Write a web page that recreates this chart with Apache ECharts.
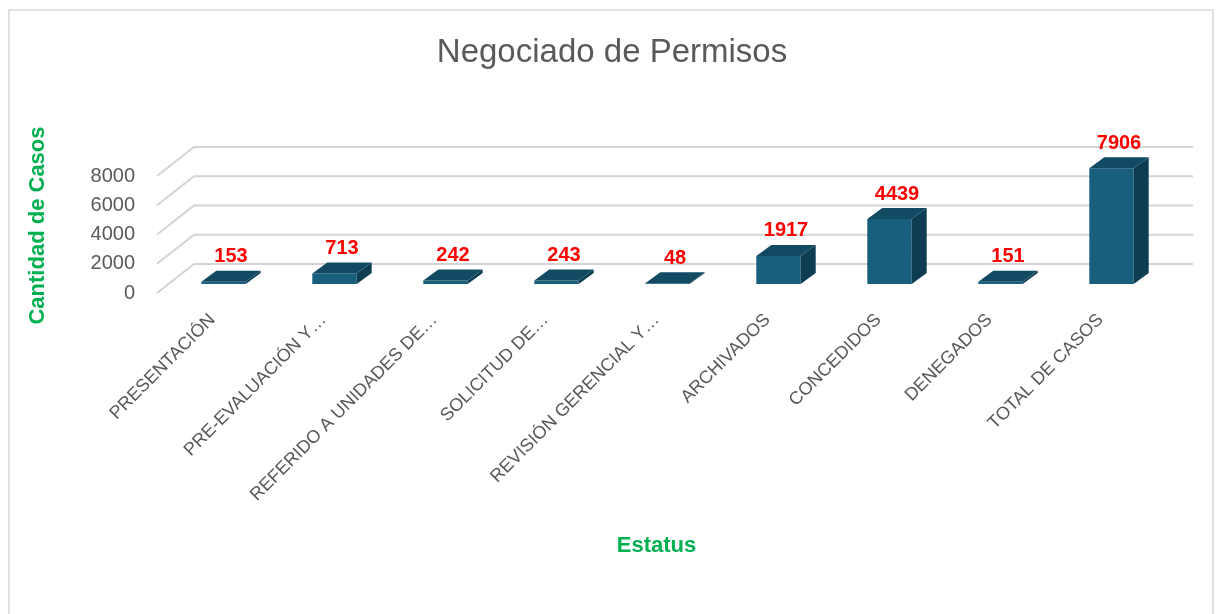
<!DOCTYPE html>
<html>
<head>
<meta charset="utf-8">
<script src="https://cdn.jsdelivr.net/npm/echarts@6/dist/echarts.min.js"></script>
<style>
  html, body { margin: 0; padding: 0; background: #fff; }
  #main { width: 1224px; height: 614px; }
</style>
</head>
<body>
<div id="main"></div>
<script>
var categories = ['PRESENTACIÓN', 'PRE-EVALUACIÓN Y…', 'REFERIDO A UNIDADES DE…', 'SOLICITUD DE…',
    'REVISIÓN GERENCIAL Y…', 'ARCHIVADOS', 'CONCEDIDOS', 'DENEGADOS', 'TOTAL DE CASOS'];
var casos = [153, 713, 242, 243, 48, 1917, 4439, 151, 7906];
var yTicks = [0, 2000, 4000, 6000, 8000];

// fake 3d: wall depth, bar position in depth, bar depth
var WALL_DX = 37, WALL_DY = -29;
var BAR_OX = 11, BAR_OY = -9;
var BAR_DX = 15, BAR_DY = -11;

var myChart = echarts.init(document.getElementById('main'));

function renderWall(params, api) {
    var cs = params.coordSys;
    var y = api.coord([0, api.value(1)])[1];
    return {
        type: 'polyline',
        shape: {
            points: [[cs.x, y], [cs.x + WALL_DX, y + WALL_DY], [cs.x + cs.width + WALL_DX, y + WALL_DY]]
        },
        style: { stroke: '#d4d4d4', lineWidth: 2, fill: null },
        silent: true
    };
}

function renderBar(params, api) {
    var base = api.coord([api.value(0), 0]);
    var top = api.coord([api.value(0), api.value(1)]);
    var w = api.size([1, 0])[0] * 0.4;
    var cx = base[0] + BAR_OX;
    var l = cx - w / 2, r = cx + w / 2;
    var by = base[1] + BAR_OY;
    var ty = top[1] + BAR_OY;
    return {
        type: 'group',
        children: [{
            type: 'rect',
            shape: { x: l, y: ty, width: w, height: Math.max(by - ty, 0.5) },
            style: { fill: '#185f7d' }
        }, {
            type: 'polygon',
            shape: { points: [[r, ty], [r + BAR_DX, ty + BAR_DY], [r + BAR_DX, by + BAR_DY], [r, by]] },
            style: { fill: '#0e3d51' }
        }, {
            type: 'polygon',
            shape: { points: [[l, ty], [r, ty], [r + BAR_DX, ty + BAR_DY], [l + BAR_DX, ty + BAR_DY]] },
            style: { fill: '#124a63' }
        }, {
            type: 'text',
            style: {
                x: cx + BAR_DX / 2, y: ty + BAR_DY - 4,
                text: String(api.value(1)),
                fill: '#ff0000', font: 'bold 20px "Liberation Sans", Arial, sans-serif',
                align: 'center', verticalAlign: 'bottom'
            }
        }]
    };
}

var option = {
    backgroundColor: '#fff',
    title: {
        text: 'Negociado de Permisos',
        left: 'center',
        top: 31,
        textStyle: { fontSize: 33, fontWeight: 'normal', color: '#595959', fontFamily: 'Liberation Sans' }
    },
    graphic: [{
        type: 'rect',
        shape: { x: 9, y: 10, width: 1204, height: 620 },
        style: { fill: null, stroke: '#d9d9d9', lineWidth: 1.5 },
        silent: true
    }],
    grid: { left: 157, right: 68, top: 176, bottom: 321 },
    xAxis: {
        type: 'category',
        data: categories,
        name: 'Estatus',
        nameLocation: 'middle',
        nameGap: 242,
        nameTextStyle: { color: '#00b050', fontSize: 22, fontWeight: 'bold', fontFamily: 'Liberation Sans' },
        axisLine: { show: false },
        axisTick: { show: false },
        axisLabel: {
            interval: 0, rotate: 45, margin: 24,
            color: '#595959', fontSize: 18, fontFamily: 'Liberation Sans'
        }
    },
    yAxis: {
        type: 'value',
        min: 0, max: 8000, interval: 2000,
        name: 'Cantidad de Casos',
        nameLocation: 'middle',
        nameRotate: 90,
        nameGap: 108,
        nameTextStyle: {
            color: '#00b050', fontSize: 22, fontWeight: 'bold', fontFamily: 'Liberation Sans',
            padding: [0, 0, 0, 18]
        },
        axisLine: { show: false },
        axisTick: { show: false },
        splitLine: { show: false },
        axisLabel: {
            margin: 22, color: '#595959', fontSize: 20, fontFamily: 'Liberation Sans',
            formatter: function (v) { return String(v); }
        }
    },
    series: [{
        type: 'custom',
        renderItem: renderWall,
        data: yTicks.map(function (v) { return [0, v]; }),
        silent: true,
        z: 1
    }, {
        type: 'custom',
        renderItem: renderBar,
        data: casos.map(function (v, i) { return [i, v]; }),
        z: 2
    }]
};

myChart.setOption(option);
</script>
</body>
</html>
